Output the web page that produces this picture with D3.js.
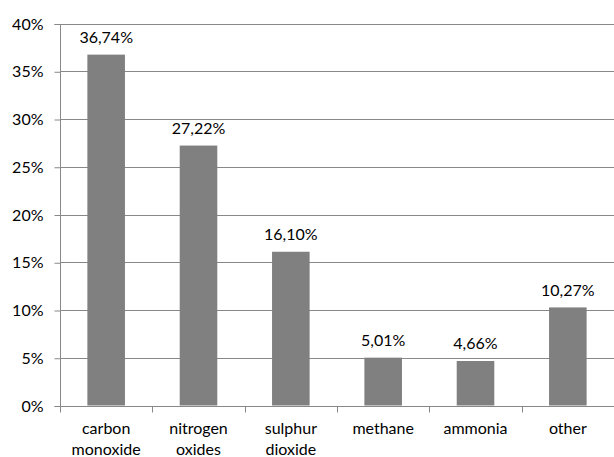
<!DOCTYPE html>
<html>
<head>
<meta charset="utf-8">
<script src="https://cdn.jsdelivr.net/npm/d3@7"></script>
<style>
  html, body { margin: 0; padding: 0; background: #fff; }
  svg { display: block; }
  text { font-family: Lato, "Open Sans", sans-serif; font-size: 16px; fill: #000; }
</style>
</head>
<body>
<svg id="chart" width="614" height="457"></svg>
<script>
// Emission shares by pollutant
const categories = [["carbon", "monoxide"], ["nitrogen", "oxides"], ["sulphur", "dioxide"], ["methane"], ["ammonia"], ["other"]];
const values = [36.74, 27.22, 16.10, 5.01, 4.66, 10.27];
const valueLabels = ["36,74%", "27,22%", "16,10%", "5,01%", "4,66%", "10,27%"];
const yTicks = [0, 5, 10, 15, 20, 25, 30, 35, 40];

const svg = d3.select("#chart");
const plot = { left: 60, right: 614, top: 23.5, bottom: 405.5 };
const FONT = "Lato, \"Open Sans\", sans-serif";

const x = d3.scaleBand().domain(d3.range(categories.length)).range([plot.left, plot.right]).padding(0);
const y = d3.scaleLinear().domain([0, 40]).range([plot.bottom, plot.top]);

// horizontal gridlines
svg.append("g").selectAll("line").data(yTicks.filter(d => d > 0)).join("line")
  .attr("x1", plot.left).attr("x2", plot.right)
  .attr("y1", d => Math.round(y(d)) + 0.5).attr("y2", d => Math.round(y(d)) + 0.5)
  .attr("stroke", "#888").attr("stroke-width", 1);

// y axis
const yAxis = svg.append("g").attr("transform", `translate(${plot.left + 0.5},0.5)`)
  .call(d3.axisLeft(y).tickValues(yTicks).tickFormat(d => d + "%").tickSize(6).tickPadding(11));
yAxis.selectAll("line, path").attr("stroke", "#888");
yAxis.select(".domain").attr("d", `M-6,${Math.round(y(40))}H0V${Math.round(y(0))}H-6`);
yAxis.selectAll("text").style("font-family", FONT).style("font-size", "16px").attr("fill", "#000");

// bars
const barW = x.step() * 0.407;
svg.append("g").selectAll("rect").data(values).join("rect")
  .attr("x", (d, i) => x(i) + (x.step() - barW) / 2)
  .attr("y", d => y(d))
  .attr("width", barW)
  .attr("height", d => y(0) - y(d))
  .attr("fill", "#808080");

// x axis baseline and tick marks
const xg = svg.append("g");
xg.append("line").attr("x1", plot.left).attr("x2", plot.right)
  .attr("y1", Math.round(y(0)) + 0.5).attr("y2", Math.round(y(0)) + 0.5)
  .attr("stroke", "#888");
xg.selectAll("line.tick").data(d3.range(categories.length + 1)).join("line")
  .attr("class", "tick")
  .attr("x1", i => Math.round(plot.left + i * x.step()) + 0.5)
  .attr("x2", i => Math.round(plot.left + i * x.step()) + 0.5)
  .attr("y1", Math.round(y(0))).attr("y2", Math.round(y(0)) + 6.5)
  .attr("stroke", "#888");

// category labels
const cat = svg.append("g").selectAll("text").data(categories).join("text")
  .attr("text-anchor", "middle")
  .attr("transform", (d, i) => `translate(${x(i) + x.step() / 2},434)`);
cat.selectAll("tspan").data(d => d).join("tspan")
  .attr("x", 0).attr("dy", (d, j) => j === 0 ? 0 : 21).text(d => d);

// value labels
svg.append("g").selectAll("text").data(values).join("text")
  .attr("text-anchor", "middle")
  .attr("x", (d, i) => x(i) + x.step() / 2)
  .attr("y", d => y(d) - 11.5)
  .text((d, i) => valueLabels[i]);
</script>
</body>
</html>
